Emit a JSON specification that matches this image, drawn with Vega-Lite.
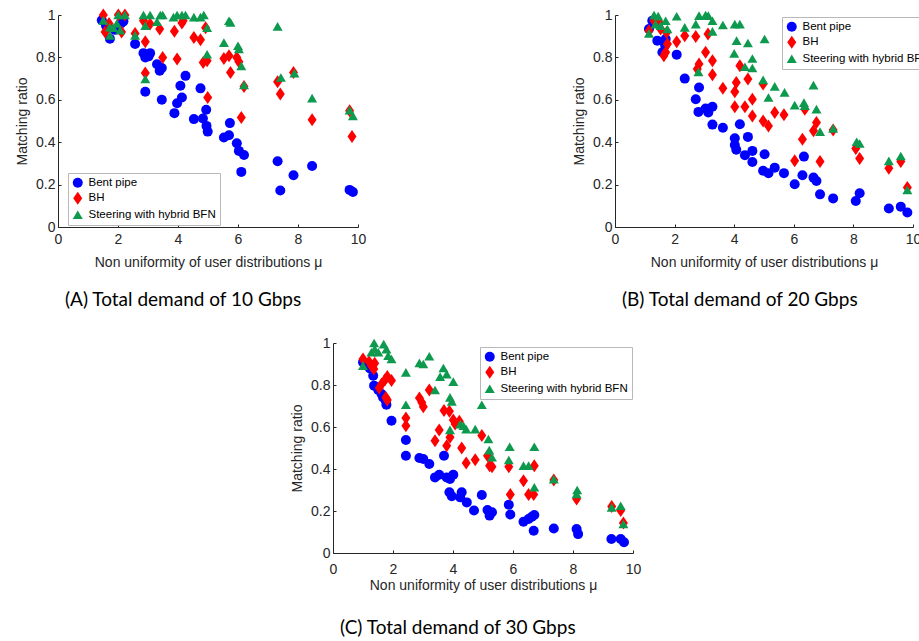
{
  "$schema": "https://vega.github.io/schema/vega-lite/v6.json",
  "padding": {"left": 15, "top": 8, "right": 0, "bottom": 5},
  "config": {
    "view": {"stroke": null},
    "font": "Liberation Sans",
    "axis": {"grid": false, "domainColor": "#262626", "tickColor": "#262626", "labelColor": "#262626", "titleColor": "#262626", "labelFont": "Liberation Sans", "titleFont": "Liberation Sans", "labelFontSize": 14, "titleFontSize": 14, "titleFontWeight": "normal", "tickSize": -3, "labelPadding": 6, "labelFlush": false},
    "axisX": {"labelPadding": 8, "titlePadding": 9},
    "axisY": {"titlePadding": 6},
    "legend": {"labelFont": "Liberation Sans", "labelFontSize": 11.5, "labelColor": "#000", "strokeColor": "#b8b8b8", "fillColor": "#fff", "padding": 4, "rowPadding": 2.5, "symbolSize": 100, "symbolStrokeWidth": 0, "labelLimit": 300, "labelOffset": 5},
    "title": {"font": "Lato", "fontSize": 19, "fontWeight": "normal", "color": "#000", "orient": "bottom", "anchor": "start", "frame": "group", "dx": 7, "offset": 22}
  },
  "datasets": {
    "A": [
      {"mu":1.46,"ratio":0.975,"method":"Bent pipe"},{"mu":1.6,"ratio":0.95,"method":"Bent pipe"},{"mu":1.73,"ratio":0.888,"method":"Bent pipe"},{"mu":1.9,"ratio":0.93,"method":"Bent pipe"},{"mu":2.1,"ratio":0.96,"method":"Bent pipe"},{"mu":2.18,"ratio":0.97,"method":"Bent pipe"},{"mu":2.57,"ratio":0.863,"method":"Bent pipe"},{"mu":2.85,"ratio":0.82,"method":"Bent pipe"},{"mu":2.91,"ratio":0.8,"method":"Bent pipe"},{"mu":3.07,"ratio":0.82,"method":"Bent pipe"},{"mu":3.02,"ratio":0.805,"method":"Bent pipe"},{"mu":3.3,"ratio":0.768,"method":"Bent pipe"},{"mu":3.39,"ratio":0.737,"method":"Bent pipe"},{"mu":3.46,"ratio":0.75,"method":"Bent pipe"},{"mu":2.91,"ratio":0.638,"method":"Bent pipe"},{"mu":3.46,"ratio":0.6,"method":"Bent pipe"},{"mu":3.88,"ratio":0.537,"method":"Bent pipe"},{"mu":3.97,"ratio":0.584,"method":"Bent pipe"},{"mu":4.08,"ratio":0.666,"method":"Bent pipe"},{"mu":4.13,"ratio":0.611,"method":"Bent pipe"},{"mu":4.25,"ratio":0.713,"method":"Bent pipe"},{"mu":4.53,"ratio":0.509,"method":"Bent pipe"},{"mu":4.75,"ratio":0.654,"method":"Bent pipe"},{"mu":4.83,"ratio":0.512,"method":"Bent pipe"},{"mu":4.94,"ratio":0.553,"method":"Bent pipe"},{"mu":4.95,"ratio":0.477,"method":"Bent pipe"},{"mu":4.99,"ratio":0.45,"method":"Bent pipe"},{"mu":5.53,"ratio":0.422,"method":"Bent pipe"},{"mu":5.7,"ratio":0.433,"method":"Bent pipe"},{"mu":5.73,"ratio":0.49,"method":"Bent pipe"},{"mu":5.96,"ratio":0.395,"method":"Bent pipe"},{"mu":6.03,"ratio":0.359,"method":"Bent pipe"},{"mu":6.2,"ratio":0.34,"method":"Bent pipe"},{"mu":6.11,"ratio":0.26,"method":"Bent pipe"},{"mu":7.32,"ratio":0.31,"method":"Bent pipe"},{"mu":7.41,"ratio":0.172,"method":"Bent pipe"},{"mu":7.85,"ratio":0.244,"method":"Bent pipe"},{"mu":8.47,"ratio":0.288,"method":"Bent pipe"},{"mu":9.72,"ratio":0.175,"method":"Bent pipe"},{"mu":9.83,"ratio":0.165,"method":"Bent pipe"},
      {"mu":1.51,"ratio":1.0,"method":"BH"},{"mu":1.57,"ratio":0.92,"method":"BH"},{"mu":1.7,"ratio":0.96,"method":"BH"},{"mu":2.01,"ratio":1.0,"method":"BH"},{"mu":2.12,"ratio":0.92,"method":"BH"},{"mu":2.23,"ratio":1.0,"method":"BH"},{"mu":2.57,"ratio":0.913,"method":"BH"},{"mu":2.85,"ratio":0.973,"method":"BH"},{"mu":2.91,"ratio":0.874,"method":"BH"},{"mu":2.91,"ratio":0.726,"method":"BH"},{"mu":3.07,"ratio":0.957,"method":"BH"},{"mu":3.39,"ratio":0.934,"method":"BH"},{"mu":3.49,"ratio":0.8,"method":"BH"},{"mu":3.88,"ratio":0.923,"method":"BH"},{"mu":3.97,"ratio":0.792,"method":"BH"},{"mu":4.13,"ratio":0.962,"method":"BH"},{"mu":4.17,"ratio":0.973,"method":"BH"},{"mu":4.53,"ratio":0.894,"method":"BH"},{"mu":4.75,"ratio":0.883,"method":"BH"},{"mu":4.84,"ratio":0.776,"method":"BH"},{"mu":4.92,"ratio":0.94,"method":"BH"},{"mu":4.97,"ratio":0.784,"method":"BH"},{"mu":4.99,"ratio":0.611,"method":"BH"},{"mu":5.53,"ratio":0.795,"method":"BH"},{"mu":5.7,"ratio":0.808,"method":"BH"},{"mu":5.75,"ratio":0.729,"method":"BH"},{"mu":5.96,"ratio":0.8,"method":"BH"},{"mu":6.03,"ratio":0.78,"method":"BH"},{"mu":6.11,"ratio":0.517,"method":"BH"},{"mu":6.2,"ratio":0.663,"method":"BH"},{"mu":7.32,"ratio":0.685,"method":"BH"},{"mu":7.41,"ratio":0.627,"method":"BH"},{"mu":7.85,"ratio":0.729,"method":"BH"},{"mu":8.47,"ratio":0.506,"method":"BH"},{"mu":9.72,"ratio":0.548,"method":"BH"},{"mu":9.8,"ratio":0.427,"method":"BH"},
      {"mu":1.51,"ratio":0.975,"method":"Steering with hybrid BFN"},{"mu":1.73,"ratio":0.943,"method":"Steering with hybrid BFN"},{"mu":1.73,"ratio":0.904,"method":"Steering with hybrid BFN"},{"mu":1.84,"ratio":0.94,"method":"Steering with hybrid BFN"},{"mu":1.96,"ratio":0.96,"method":"Steering with hybrid BFN"},{"mu":2.01,"ratio":1.0,"method":"Steering with hybrid BFN"},{"mu":2.07,"ratio":0.928,"method":"Steering with hybrid BFN"},{"mu":2.23,"ratio":1.0,"method":"Steering with hybrid BFN"},{"mu":2.57,"ratio":0.904,"method":"Steering with hybrid BFN"},{"mu":2.85,"ratio":1.0,"method":"Steering with hybrid BFN"},{"mu":2.91,"ratio":0.95,"method":"Steering with hybrid BFN"},{"mu":2.91,"ratio":0.698,"method":"Steering with hybrid BFN"},{"mu":3.07,"ratio":1.0,"method":"Steering with hybrid BFN"},{"mu":3.3,"ratio":0.968,"method":"Steering with hybrid BFN"},{"mu":3.41,"ratio":1.0,"method":"Steering with hybrid BFN"},{"mu":3.49,"ratio":1.0,"method":"Steering with hybrid BFN"},{"mu":3.85,"ratio":0.99,"method":"Steering with hybrid BFN"},{"mu":3.97,"ratio":1.0,"method":"Steering with hybrid BFN"},{"mu":4.13,"ratio":1.0,"method":"Steering with hybrid BFN"},{"mu":4.25,"ratio":1.0,"method":"Steering with hybrid BFN"},{"mu":4.53,"ratio":0.99,"method":"Steering with hybrid BFN"},{"mu":4.75,"ratio":0.99,"method":"Steering with hybrid BFN"},{"mu":4.86,"ratio":1.0,"method":"Steering with hybrid BFN"},{"mu":4.97,"ratio":0.94,"method":"Steering with hybrid BFN"},{"mu":4.97,"ratio":0.815,"method":"Steering with hybrid BFN"},{"mu":5.53,"ratio":0.87,"method":"Steering with hybrid BFN"},{"mu":5.7,"ratio":0.973,"method":"Steering with hybrid BFN"},{"mu":5.75,"ratio":0.965,"method":"Steering with hybrid BFN"},{"mu":6.0,"ratio":0.855,"method":"Steering with hybrid BFN"},{"mu":6.03,"ratio":0.84,"method":"Steering with hybrid BFN"},{"mu":6.11,"ratio":0.76,"method":"Steering with hybrid BFN"},{"mu":6.2,"ratio":0.67,"method":"Steering with hybrid BFN"},{"mu":7.32,"ratio":0.946,"method":"Steering with hybrid BFN"},{"mu":7.43,"ratio":0.705,"method":"Steering with hybrid BFN"},{"mu":7.88,"ratio":0.726,"method":"Steering with hybrid BFN"},{"mu":8.47,"ratio":0.608,"method":"Steering with hybrid BFN"},{"mu":9.72,"ratio":0.551,"method":"Steering with hybrid BFN"},{"mu":9.83,"ratio":0.524,"method":"Steering with hybrid BFN"}
    ],
    "B": [
      {"mu":1.14,"ratio":0.934,"method":"Bent pipe"},{"mu":1.25,"ratio":0.973,"method":"Bent pipe"},{"mu":1.42,"ratio":0.879,"method":"Bent pipe"},{"mu":1.59,"ratio":0.824,"method":"Bent pipe"},{"mu":1.7,"ratio":0.887,"method":"Bent pipe"},{"mu":1.68,"ratio":0.858,"method":"Bent pipe"},{"mu":2.07,"ratio":0.813,"method":"Bent pipe"},{"mu":2.34,"ratio":0.7,"method":"Bent pipe"},{"mu":2.71,"ratio":0.603,"method":"Bent pipe"},{"mu":2.82,"ratio":0.658,"method":"Bent pipe"},{"mu":2.8,"ratio":0.543,"method":"Bent pipe"},{"mu":3.04,"ratio":0.559,"method":"Bent pipe"},{"mu":3.13,"ratio":0.54,"method":"Bent pipe"},{"mu":3.27,"ratio":0.567,"method":"Bent pipe"},{"mu":3.27,"ratio":0.483,"method":"Bent pipe"},{"mu":3.62,"ratio":0.468,"method":"Bent pipe"},{"mu":4.02,"ratio":0.419,"method":"Bent pipe"},{"mu":4.02,"ratio":0.387,"method":"Bent pipe"},{"mu":4.07,"ratio":0.364,"method":"Bent pipe"},{"mu":4.19,"ratio":0.485,"method":"Bent pipe"},{"mu":4.36,"ratio":0.339,"method":"Bent pipe"},{"mu":4.46,"ratio":0.425,"method":"Bent pipe"},{"mu":4.61,"ratio":0.359,"method":"Bent pipe"},{"mu":4.61,"ratio":0.307,"method":"Bent pipe"},{"mu":5.02,"ratio":0.343,"method":"Bent pipe"},{"mu":4.97,"ratio":0.265,"method":"Bent pipe"},{"mu":5.15,"ratio":0.254,"method":"Bent pipe"},{"mu":5.36,"ratio":0.28,"method":"Bent pipe"},{"mu":5.67,"ratio":0.254,"method":"Bent pipe"},{"mu":6.03,"ratio":0.202,"method":"Bent pipe"},{"mu":6.34,"ratio":0.332,"method":"Bent pipe"},{"mu":6.29,"ratio":0.244,"method":"Bent pipe"},{"mu":6.66,"ratio":0.233,"method":"Bent pipe"},{"mu":6.76,"ratio":0.217,"method":"Bent pipe"},{"mu":6.88,"ratio":0.154,"method":"Bent pipe"},{"mu":7.32,"ratio":0.135,"method":"Bent pipe"},{"mu":8.08,"ratio":0.123,"method":"Bent pipe"},{"mu":8.21,"ratio":0.159,"method":"Bent pipe"},{"mu":9.19,"ratio":0.087,"method":"Bent pipe"},{"mu":9.59,"ratio":0.096,"method":"Bent pipe"},{"mu":9.81,"ratio":0.068,"method":"Bent pipe"},
      {"mu":1.14,"ratio":0.926,"method":"BH"},{"mu":1.31,"ratio":0.973,"method":"BH"},{"mu":1.48,"ratio":0.965,"method":"BH"},{"mu":1.53,"ratio":0.934,"method":"BH"},{"mu":1.64,"ratio":0.808,"method":"BH"},{"mu":1.7,"ratio":0.824,"method":"BH"},{"mu":1.73,"ratio":0.918,"method":"BH"},{"mu":1.76,"ratio":0.863,"method":"BH"},{"mu":2.07,"ratio":0.874,"method":"BH"},{"mu":2.34,"ratio":0.902,"method":"BH"},{"mu":2.71,"ratio":0.899,"method":"BH"},{"mu":2.82,"ratio":0.769,"method":"BH"},{"mu":2.76,"ratio":0.745,"method":"BH"},{"mu":3.12,"ratio":0.91,"method":"BH"},{"mu":3.04,"ratio":0.824,"method":"BH"},{"mu":3.27,"ratio":0.784,"method":"BH"},{"mu":3.27,"ratio":0.718,"method":"BH"},{"mu":3.62,"ratio":0.654,"method":"BH"},{"mu":4.02,"ratio":0.638,"method":"BH"},{"mu":4.07,"ratio":0.682,"method":"BH"},{"mu":4.02,"ratio":0.567,"method":"BH"},{"mu":4.19,"ratio":0.761,"method":"BH"},{"mu":4.36,"ratio":0.567,"method":"BH"},{"mu":4.46,"ratio":0.698,"method":"BH"},{"mu":4.61,"ratio":0.603,"method":"BH"},{"mu":4.61,"ratio":0.524,"method":"BH"},{"mu":4.97,"ratio":0.674,"method":"BH"},{"mu":4.97,"ratio":0.5,"method":"BH"},{"mu":5.15,"ratio":0.477,"method":"BH"},{"mu":5.36,"ratio":0.54,"method":"BH"},{"mu":5.67,"ratio":0.529,"method":"BH"},{"mu":6.03,"ratio":0.312,"method":"BH"},{"mu":6.29,"ratio":0.414,"method":"BH"},{"mu":6.37,"ratio":0.556,"method":"BH"},{"mu":6.66,"ratio":0.454,"method":"BH"},{"mu":6.76,"ratio":0.493,"method":"BH"},{"mu":6.88,"ratio":0.309,"method":"BH"},{"mu":7.32,"ratio":0.457,"method":"BH"},{"mu":8.08,"ratio":0.37,"method":"BH"},{"mu":8.21,"ratio":0.323,"method":"BH"},{"mu":9.19,"ratio":0.277,"method":"BH"},{"mu":9.59,"ratio":0.309,"method":"BH"},{"mu":9.81,"ratio":0.186,"method":"BH"},
      {"mu":1.14,"ratio":0.913,"method":"Steering with hybrid BFN"},{"mu":1.31,"ratio":1.0,"method":"Steering with hybrid BFN"},{"mu":1.45,"ratio":0.995,"method":"Steering with hybrid BFN"},{"mu":1.36,"ratio":0.957,"method":"Steering with hybrid BFN"},{"mu":1.53,"ratio":0.95,"method":"Steering with hybrid BFN"},{"mu":1.7,"ratio":0.973,"method":"Steering with hybrid BFN"},{"mu":1.76,"ratio":0.934,"method":"Steering with hybrid BFN"},{"mu":2.07,"ratio":0.994,"method":"Steering with hybrid BFN"},{"mu":2.34,"ratio":0.942,"method":"Steering with hybrid BFN"},{"mu":2.71,"ratio":0.957,"method":"Steering with hybrid BFN"},{"mu":2.8,"ratio":0.732,"method":"Steering with hybrid BFN"},{"mu":2.82,"ratio":0.997,"method":"Steering with hybrid BFN"},{"mu":3.04,"ratio":1.0,"method":"Steering with hybrid BFN"},{"mu":3.13,"ratio":0.997,"method":"Steering with hybrid BFN"},{"mu":3.27,"ratio":0.973,"method":"Steering with hybrid BFN"},{"mu":3.27,"ratio":0.923,"method":"Steering with hybrid BFN"},{"mu":3.62,"ratio":0.953,"method":"Steering with hybrid BFN"},{"mu":4.02,"ratio":0.957,"method":"Steering with hybrid BFN"},{"mu":4.19,"ratio":0.957,"method":"Steering with hybrid BFN"},{"mu":4.0,"ratio":0.819,"method":"Steering with hybrid BFN"},{"mu":4.08,"ratio":0.879,"method":"Steering with hybrid BFN"},{"mu":4.36,"ratio":0.756,"method":"Steering with hybrid BFN"},{"mu":4.46,"ratio":0.868,"method":"Steering with hybrid BFN"},{"mu":4.61,"ratio":0.795,"method":"Steering with hybrid BFN"},{"mu":4.61,"ratio":0.75,"method":"Steering with hybrid BFN"},{"mu":4.97,"ratio":0.694,"method":"Steering with hybrid BFN"},{"mu":5.02,"ratio":0.887,"method":"Steering with hybrid BFN"},{"mu":5.15,"ratio":0.611,"method":"Steering with hybrid BFN"},{"mu":5.36,"ratio":0.663,"method":"Steering with hybrid BFN"},{"mu":5.69,"ratio":0.635,"method":"Steering with hybrid BFN"},{"mu":6.03,"ratio":0.575,"method":"Steering with hybrid BFN"},{"mu":6.34,"ratio":0.587,"method":"Steering with hybrid BFN"},{"mu":6.37,"ratio":0.572,"method":"Steering with hybrid BFN"},{"mu":6.66,"ratio":0.669,"method":"Steering with hybrid BFN"},{"mu":6.76,"ratio":0.556,"method":"Steering with hybrid BFN"},{"mu":6.88,"ratio":0.45,"method":"Steering with hybrid BFN"},{"mu":7.32,"ratio":0.465,"method":"Steering with hybrid BFN"},{"mu":8.11,"ratio":0.402,"method":"Steering with hybrid BFN"},{"mu":8.21,"ratio":0.394,"method":"Steering with hybrid BFN"},{"mu":9.19,"ratio":0.312,"method":"Steering with hybrid BFN"},{"mu":9.59,"ratio":0.335,"method":"Steering with hybrid BFN"},{"mu":9.81,"ratio":0.175,"method":"Steering with hybrid BFN"}
    ],
    "C": [
      {"mu":1.0,"ratio":0.908,"method":"Bent pipe"},{"mu":1.23,"ratio":0.879,"method":"Bent pipe"},{"mu":1.34,"ratio":0.844,"method":"Bent pipe"},{"mu":1.37,"ratio":0.797,"method":"Bent pipe"},{"mu":1.51,"ratio":0.776,"method":"Bent pipe"},{"mu":1.62,"ratio":0.757,"method":"Bent pipe"},{"mu":1.67,"ratio":0.741,"method":"Bent pipe"},{"mu":1.76,"ratio":0.725,"method":"Bent pipe"},{"mu":1.78,"ratio":0.706,"method":"Bent pipe"},{"mu":1.95,"ratio":0.63,"method":"Bent pipe"},{"mu":2.43,"ratio":0.538,"method":"Bent pipe"},{"mu":2.43,"ratio":0.463,"method":"Bent pipe"},{"mu":2.88,"ratio":0.452,"method":"Bent pipe"},{"mu":3.01,"ratio":0.448,"method":"Bent pipe"},{"mu":3.21,"ratio":0.424,"method":"Bent pipe"},{"mu":3.4,"ratio":0.36,"method":"Bent pipe"},{"mu":3.54,"ratio":0.373,"method":"Bent pipe"},{"mu":3.7,"ratio":0.463,"method":"Bent pipe"},{"mu":3.79,"ratio":0.36,"method":"Bent pipe"},{"mu":3.9,"ratio":0.352,"method":"Bent pipe"},{"mu":4.01,"ratio":0.373,"method":"Bent pipe"},{"mu":3.88,"ratio":0.289,"method":"Bent pipe"},{"mu":3.96,"ratio":0.27,"method":"Bent pipe"},{"mu":4.24,"ratio":0.265,"method":"Bent pipe"},{"mu":4.29,"ratio":0.289,"method":"Bent pipe"},{"mu":4.46,"ratio":0.241,"method":"Bent pipe"},{"mu":4.7,"ratio":0.202,"method":"Bent pipe"},{"mu":4.96,"ratio":0.276,"method":"Bent pipe"},{"mu":5.15,"ratio":0.205,"method":"Bent pipe"},{"mu":5.22,"ratio":0.178,"method":"Bent pipe"},{"mu":5.3,"ratio":0.194,"method":"Bent pipe"},{"mu":5.86,"ratio":0.23,"method":"Bent pipe"},{"mu":5.91,"ratio":0.183,"method":"Bent pipe"},{"mu":6.35,"ratio":0.149,"method":"Bent pipe"},{"mu":6.52,"ratio":0.162,"method":"Bent pipe"},{"mu":6.63,"ratio":0.173,"method":"Bent pipe"},{"mu":6.71,"ratio":0.181,"method":"Bent pipe"},{"mu":6.69,"ratio":0.106,"method":"Bent pipe"},{"mu":7.36,"ratio":0.117,"method":"Bent pipe"},{"mu":8.12,"ratio":0.114,"method":"Bent pipe"},{"mu":8.17,"ratio":0.09,"method":"Bent pipe"},{"mu":9.28,"ratio":0.067,"method":"Bent pipe"},{"mu":9.59,"ratio":0.067,"method":"Bent pipe"},{"mu":9.7,"ratio":0.051,"method":"Bent pipe"},
      {"mu":1.0,"ratio":0.924,"method":"BH"},{"mu":1.2,"ratio":0.911,"method":"BH"},{"mu":1.28,"ratio":0.892,"method":"BH"},{"mu":1.36,"ratio":0.876,"method":"BH"},{"mu":1.39,"ratio":0.903,"method":"BH"},{"mu":1.54,"ratio":0.786,"method":"BH"},{"mu":1.62,"ratio":0.805,"method":"BH"},{"mu":1.73,"ratio":0.824,"method":"BH"},{"mu":1.81,"ratio":0.84,"method":"BH"},{"mu":1.76,"ratio":0.741,"method":"BH"},{"mu":1.81,"ratio":0.729,"method":"BH"},{"mu":1.95,"ratio":0.821,"method":"BH"},{"mu":2.43,"ratio":0.643,"method":"BH"},{"mu":2.43,"ratio":0.606,"method":"BH"},{"mu":2.88,"ratio":0.738,"method":"BH"},{"mu":2.96,"ratio":0.717,"method":"BH"},{"mu":3.01,"ratio":0.697,"method":"BH"},{"mu":3.21,"ratio":0.776,"method":"BH"},{"mu":3.4,"ratio":0.535,"method":"BH"},{"mu":3.54,"ratio":0.586,"method":"BH"},{"mu":3.7,"ratio":0.678,"method":"BH"},{"mu":3.79,"ratio":0.511,"method":"BH"},{"mu":3.88,"ratio":0.675,"method":"BH"},{"mu":3.9,"ratio":0.551,"method":"BH"},{"mu":4.01,"ratio":0.633,"method":"BH"},{"mu":4.07,"ratio":0.614,"method":"BH"},{"mu":4.21,"ratio":0.627,"method":"BH"},{"mu":4.29,"ratio":0.5,"method":"BH"},{"mu":4.44,"ratio":0.429,"method":"BH"},{"mu":4.74,"ratio":0.444,"method":"BH"},{"mu":4.96,"ratio":0.559,"method":"BH"},{"mu":5.15,"ratio":0.463,"method":"BH"},{"mu":5.22,"ratio":0.416,"method":"BH"},{"mu":5.3,"ratio":0.411,"method":"BH"},{"mu":5.86,"ratio":0.411,"method":"BH"},{"mu":5.91,"ratio":0.278,"method":"BH"},{"mu":6.35,"ratio":0.344,"method":"BH"},{"mu":6.52,"ratio":0.278,"method":"BH"},{"mu":6.69,"ratio":0.278,"method":"BH"},{"mu":6.71,"ratio":0.416,"method":"BH"},{"mu":7.36,"ratio":0.348,"method":"BH"},{"mu":8.12,"ratio":0.257,"method":"BH"},{"mu":9.29,"ratio":0.221,"method":"BH"},{"mu":9.59,"ratio":0.202,"method":"BH"},{"mu":9.68,"ratio":0.143,"method":"BH"},
      {"mu":1.0,"ratio":0.892,"method":"Steering with hybrid BFN"},{"mu":1.28,"ratio":0.956,"method":"Steering with hybrid BFN"},{"mu":1.37,"ratio":1.0,"method":"Steering with hybrid BFN"},{"mu":1.39,"ratio":0.971,"method":"Steering with hybrid BFN"},{"mu":1.51,"ratio":0.956,"method":"Steering with hybrid BFN"},{"mu":1.69,"ratio":0.995,"method":"Steering with hybrid BFN"},{"mu":1.78,"ratio":0.971,"method":"Steering with hybrid BFN"},{"mu":1.84,"ratio":0.94,"method":"Steering with hybrid BFN"},{"mu":1.95,"ratio":0.924,"method":"Steering with hybrid BFN"},{"mu":2.43,"ratio":0.86,"method":"Steering with hybrid BFN"},{"mu":2.43,"ratio":0.706,"method":"Steering with hybrid BFN"},{"mu":2.88,"ratio":0.905,"method":"Steering with hybrid BFN"},{"mu":3.01,"ratio":0.9,"method":"Steering with hybrid BFN"},{"mu":3.21,"ratio":0.937,"method":"Steering with hybrid BFN"},{"mu":3.4,"ratio":0.776,"method":"Steering with hybrid BFN"},{"mu":3.57,"ratio":0.84,"method":"Steering with hybrid BFN"},{"mu":3.68,"ratio":0.881,"method":"Steering with hybrid BFN"},{"mu":3.79,"ratio":0.852,"method":"Steering with hybrid BFN"},{"mu":3.9,"ratio":0.741,"method":"Steering with hybrid BFN"},{"mu":3.96,"ratio":0.722,"method":"Steering with hybrid BFN"},{"mu":4.01,"ratio":0.816,"method":"Steering with hybrid BFN"},{"mu":3.9,"ratio":0.586,"method":"Steering with hybrid BFN"},{"mu":4.24,"ratio":0.614,"method":"Steering with hybrid BFN"},{"mu":4.35,"ratio":0.606,"method":"Steering with hybrid BFN"},{"mu":4.44,"ratio":0.59,"method":"Steering with hybrid BFN"},{"mu":4.74,"ratio":0.59,"method":"Steering with hybrid BFN"},{"mu":4.96,"ratio":0.706,"method":"Steering with hybrid BFN"},{"mu":5.18,"ratio":0.543,"method":"Steering with hybrid BFN"},{"mu":5.21,"ratio":0.49,"method":"Steering with hybrid BFN"},{"mu":5.3,"ratio":0.456,"method":"Steering with hybrid BFN"},{"mu":5.89,"ratio":0.506,"method":"Steering with hybrid BFN"},{"mu":5.86,"ratio":0.443,"method":"Steering with hybrid BFN"},{"mu":6.35,"ratio":0.416,"method":"Steering with hybrid BFN"},{"mu":6.52,"ratio":0.416,"method":"Steering with hybrid BFN"},{"mu":6.71,"ratio":0.506,"method":"Steering with hybrid BFN"},{"mu":6.71,"ratio":0.313,"method":"Steering with hybrid BFN"},{"mu":7.36,"ratio":0.352,"method":"Steering with hybrid BFN"},{"mu":8.14,"ratio":0.3,"method":"Steering with hybrid BFN"},{"mu":8.12,"ratio":0.281,"method":"Steering with hybrid BFN"},{"mu":9.29,"ratio":0.217,"method":"Steering with hybrid BFN"},{"mu":9.59,"ratio":0.225,"method":"Steering with hybrid BFN"},{"mu":9.68,"ratio":0.138,"method":"Steering with hybrid BFN"}
    ],
    "empty": []
  },
  "vconcat": [
    {
      "hconcat": [
        {
          "width": 300, "height": 212,
          "data": {"name": "A"},
          "title": "(A) Total demand of 10 Gbps",
          "mark": {"type": "point", "filled": true, "opacity": 1, "size": 100, "strokeWidth": 0},
          "encoding": {
            "x": {"field": "mu", "type": "quantitative", "scale": {"domain": [0, 10], "nice": false}, "axis": {"title": "Non uniformity of user distributions μ", "values": [0, 2, 4, 6, 8, 10]}},
            "y": {"field": "ratio", "type": "quantitative", "scale": {"domain": [0, 1], "nice": false}, "axis": {"title": "Matching ratio", "values": [0, 0.2, 0.4, 0.6, 0.8, 1], "format": ".1~f"}},
            "color": {"field": "method", "type": "nominal", "sort": null, "scale": {"domain": ["Bent pipe", "BH", "Steering with hybrid BFN"], "range": ["#0000ff", "#ff0000", "#0e9a4e"]}, "legend": {"title": null, "orient": "none", "legendX": 10, "legendY": 158}},
            "shape": {"field": "method", "type": "nominal", "sort": null, "scale": {"domain": ["Bent pipe", "BH", "Steering with hybrid BFN"], "range": ["circle", "M0,-1.3L0.9,0L0,1.3L-0.9,0Z", "triangle-up"]}, "legend": {"title": null, "orient": "none", "legendX": 10, "legendY": 158}}
          }
        },
        {
          "width": 298, "height": 212,
          "data": {"name": "B"},
          "title": "(B) Total demand of 20 Gbps",
          "mark": {"type": "point", "filled": true, "opacity": 1, "size": 100, "strokeWidth": 0},
          "encoding": {
            "x": {"field": "mu", "type": "quantitative", "scale": {"domain": [0, 10], "nice": false}, "axis": {"title": "Non uniformity of user distributions μ", "values": [0, 2, 4, 6, 8, 10]}},
            "y": {"field": "ratio", "type": "quantitative", "scale": {"domain": [0, 1], "nice": false}, "axis": {"title": "Matching ratio", "values": [0, 0.2, 0.4, 0.6, 0.8, 1], "format": ".1~f"}},
            "color": {"field": "method", "type": "nominal", "sort": null, "scale": {"domain": ["Bent pipe", "BH", "Steering with hybrid BFN"], "range": ["#0000ff", "#ff0000", "#0e9a4e"]}, "legend": {"title": null, "orient": "none", "legendX": 167, "legendY": 2}},
            "shape": {"field": "method", "type": "nominal", "sort": null, "scale": {"domain": ["Bent pipe", "BH", "Steering with hybrid BFN"], "range": ["circle", "M0,-1.3L0.9,0L0,1.3L-0.9,0Z", "triangle-up"]}, "legend": {"title": null, "orient": "none", "legendX": 167, "legendY": 2}}
          }
        }
      ],
      "spacing": 206,
      "resolve": {"scale": {"color": "independent", "shape": "independent"}, "legend": {"color": "independent", "shape": "independent"}}
    },
    {
      "hconcat": [
        {
          "width": 232, "height": 10,
          "data": {"name": "empty"},
          "mark": {"type": "point"}
        },
        {
          "width": 300, "height": 210,
          "data": {"name": "C"},
          "title": {"text": "(C) Total demand of 30 Gbps", "offset": 27},
          "mark": {"type": "point", "filled": true, "opacity": 1, "size": 100, "strokeWidth": 0},
          "encoding": {
            "x": {"field": "mu", "type": "quantitative", "scale": {"domain": [0, 10], "nice": false}, "axis": {"title": "Non uniformity of user distributions μ", "values": [0, 2, 4, 6, 8, 10], "labelPadding": 12, "titlePadding": 2}},
            "y": {"field": "ratio", "type": "quantitative", "scale": {"domain": [0, 1], "nice": false}, "axis": {"title": "Matching ratio", "values": [0, 0.2, 0.4, 0.6, 0.8, 1], "format": ".1~f"}},
            "color": {"field": "method", "type": "nominal", "sort": null, "scale": {"domain": ["Bent pipe", "BH", "Steering with hybrid BFN"], "range": ["#0000ff", "#ff0000", "#0e9a4e"]}, "legend": {"title": null, "orient": "none", "legendX": 147, "legendY": 4}},
            "shape": {"field": "method", "type": "nominal", "sort": null, "scale": {"domain": ["Bent pipe", "BH", "Steering with hybrid BFN"], "range": ["circle", "M0,-1.3L0.9,0L0,1.3L-0.9,0Z", "triangle-up"]}, "legend": {"title": null, "orient": "none", "legendX": 147, "legendY": 4}}
          }
        }
      ],
      "spacing": 0,
      "resolve": {"scale": {"color": "independent", "shape": "independent"}, "legend": {"color": "independent", "shape": "independent"}}
    }
  ],
  "spacing": 26,
  "resolve": {"scale": {"color": "independent", "shape": "independent"}, "legend": {"color": "independent", "shape": "independent"}}
}
